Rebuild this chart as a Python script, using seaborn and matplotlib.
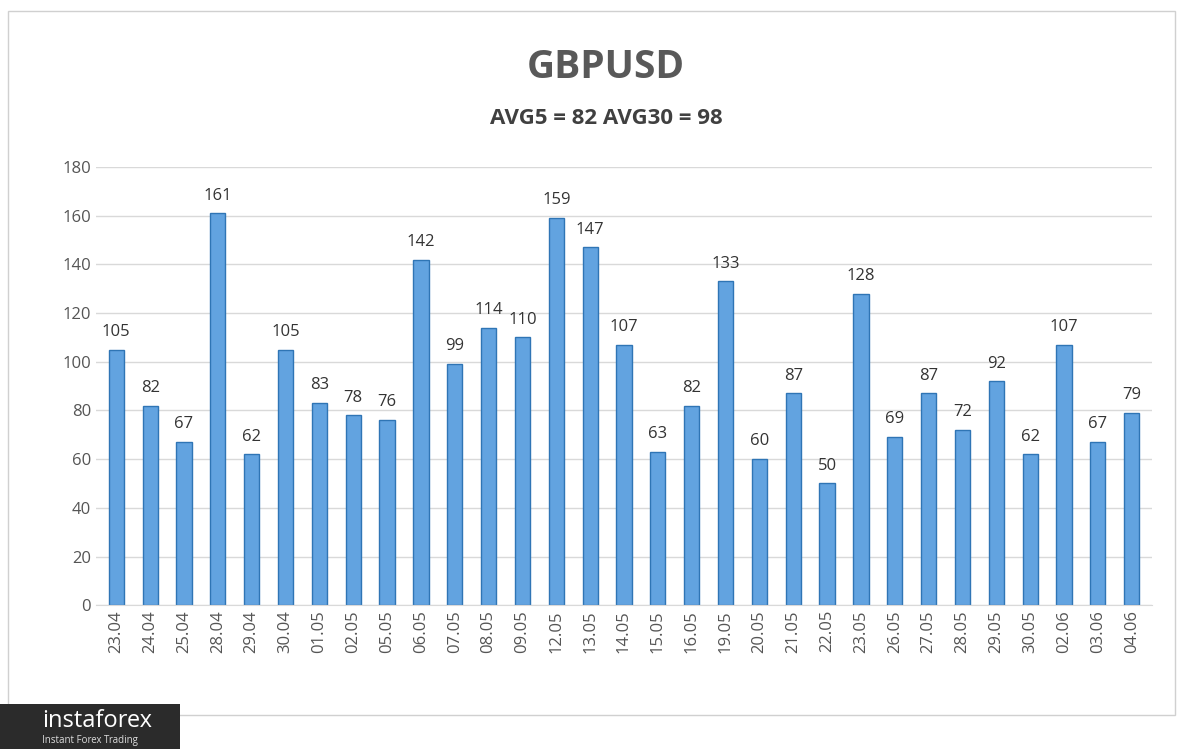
import matplotlib
matplotlib.use("Agg")
import matplotlib.pyplot as plt
import seaborn as sns
import pandas as pd

# Данные
dates = ["23.04", "24.04", "25.04", "28.04", "29.04", "30.04", "01.05", "02.05",
         "05.05", "06.05", "07.05", "08.05", "09.05", "12.05", "13.05", "14.05",
         "15.05", "16.05", "19.05", "20.05", "21.05", "22.05", "23.05", "26.05",
         "27.05", "28.05", "29.05", "30.05", "02.06", "03.06", "04.06"]
values = [105, 82, 67, 161, 62, 105, 83, 78, 76, 142, 99, 114, 110, 159, 147, 107,
          63, 82, 133, 60, 87, 50, 128, 69, 87, 72, 92, 62, 107, 67, 79]
y_ticks = [0, 20, 40, 60, 80, 100, 120, 140, 160, 180]

df = pd.DataFrame({"date": dates, "value": values})

plt.rcParams["font.family"] = "Open Sans"
fig = plt.figure(figsize=(12, 7.49), dpi=100)
fig.patch.set_facecolor("white")
ax = fig.add_axes([0.08, 0.192, 0.88, 0.585])

sns.barplot(data=df, x="date", y="value", color="#62a3e0", edgecolor="#2f75b5",
            linewidth=1, width=0.45, saturation=1, ax=ax)

for i, v in enumerate(values):
    ax.text(i, v + 4, str(v), ha="center", va="bottom", fontsize=12, color="#333333")

ax.set_ylim(0, 180)
ax.set_yticks(y_ticks)
ax.tick_params(axis="y", labelsize=12, colors="#555555", length=0)
ax.tick_params(axis="x", labelsize=12, colors="#555555", rotation=90, length=0)
ax.set_xlim(-0.6, len(dates) - 0.4)
ax.yaxis.grid(True, color="#d9d9d9", linewidth=1)
ax.set_axisbelow(True)
for s in ["top", "right", "left"]:
    ax.spines[s].set_visible(False)
ax.spines["bottom"].set_color("#d9d9d9")
ax.set_xlabel("")
ax.set_ylabel("")

fig.text(0.505, 0.91, "GBPUSD", ha="center", va="center", fontsize=28,
         fontweight="bold", color="#595959")
fig.text(0.505, 0.842, "AVG5 = 82 AVG30 = 98", ha="center", va="center",
         fontsize=16, fontweight="bold", color="#404040")

# рамка и логотип
fig.add_artist(plt.Rectangle((0.007, 0.045), 0.972, 0.94, transform=fig.transFigure,
                             fill=False, edgecolor="#d0d0d0", linewidth=1))
fig.add_artist(plt.Rectangle((0.0, 0.0), 0.15, 0.06, transform=fig.transFigure,
                             facecolor="#2b2b2b", edgecolor="none"))
fig.text(0.035, 0.037, "instaforex", fontsize=17, color="white", va="center")
fig.text(0.035, 0.012, "Instant Forex Trading", fontsize=7, color="#dddddd", va="center")

fig.savefig("out.png", dpi=100)
